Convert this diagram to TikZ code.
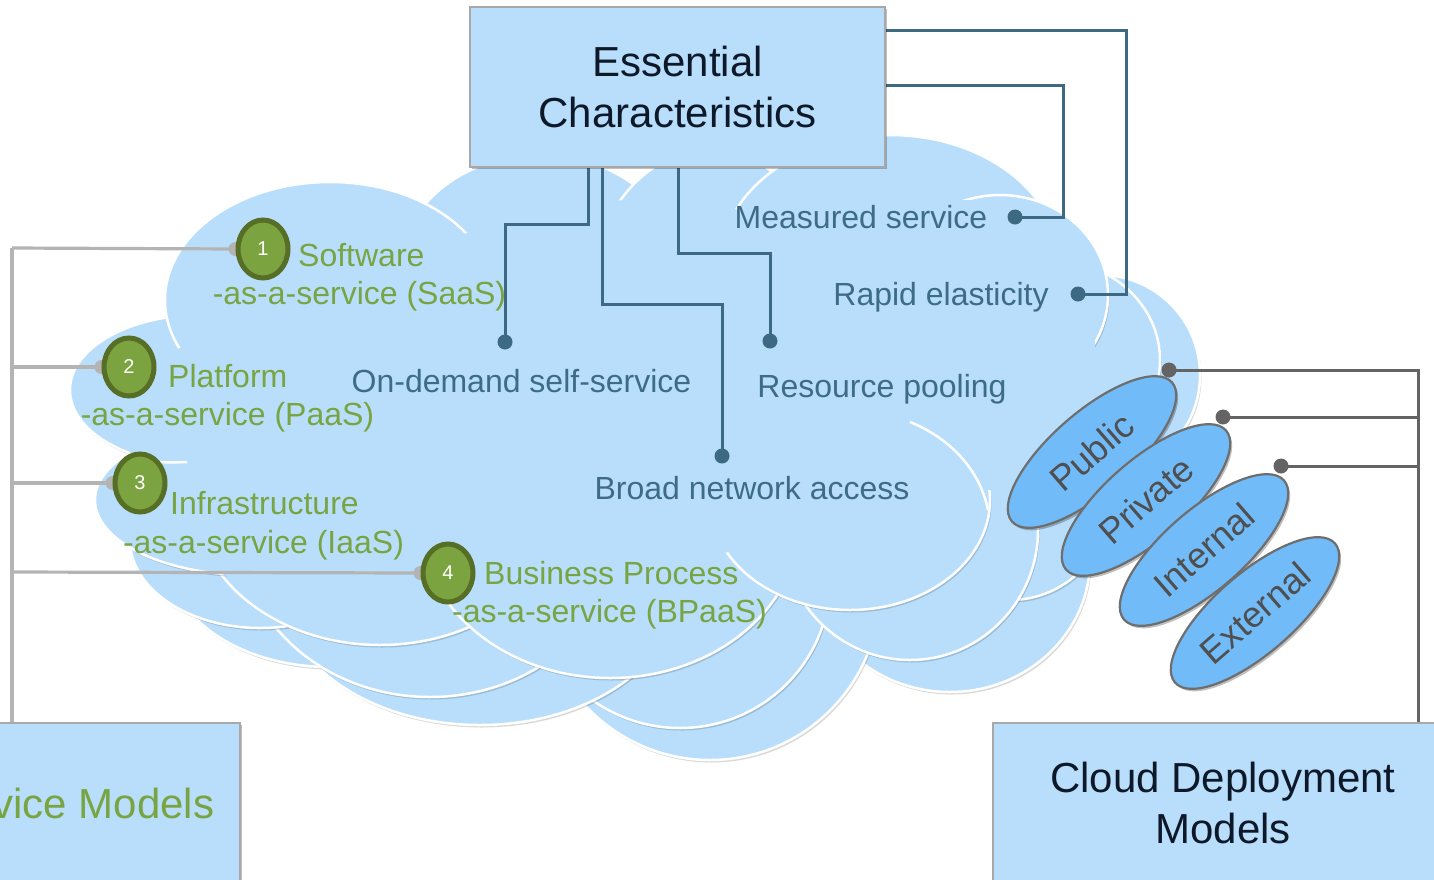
\documentclass[tikz,border=0pt]{standalone}
\usepackage{fontspec}
\setmainfont{Liberation Sans}
\usetikzlibrary{shapes.geometric,shadows}
\definecolor{cloudblue}{HTML}{B8DEFB}
\definecolor{boxgray}{HTML}{A8A8A8}
\definecolor{navy}{HTML}{0D1928}
\definecolor{greentext}{HTML}{78A442}
\definecolor{tealtext}{HTML}{3E6C85}
\definecolor{teal1}{HTML}{3D6A82}
\definecolor{numfill}{HTML}{7BA33F}
\definecolor{numedge}{HTML}{566E26}
\definecolor{lightg}{HTML}{B4B4B4}
\definecolor{darkg}{HTML}{646464}
\definecolor{depblue}{HTML}{71BBF9}
\definecolor{depedge}{HTML}{6E6E6E}
\definecolor{deptext}{HTML}{4F4F4F}
\pgfdeclarelayer{bg}
\pgfdeclarelayer{mid}
\pgfsetlayers{bg,mid,main}
\newcommand\lump[4]{\path[lumpst] (#1,#2) ellipse [x radius=#3pt, y radius=#4pt];}
\newcommand\patch[4]{\fill[cloudblue] (#1,#2) ellipse [x radius=#3pt, y radius=#4pt];}
\begin{document}
\begin{tikzpicture}[x=1pt,y=-1pt,
  lumpst/.style={fill=cloudblue, draw=white, line width=2.5pt,
    drop shadow={shadow xshift=1.5pt, shadow yshift=-2.5pt, opacity=0.15, fill=black}},
  box/.style={rectangle, fill=cloudblue, draw=boxgray, line width=1.5pt,
    minimum height=160pt, inner sep=0pt, align=center,
    font=\fontsize{42}{51}\selectfont,
    drop shadow={shadow xshift=2pt, shadow yshift=-2pt, opacity=0.25, fill=black}},
  glabel/.style={text=greentext, font=\fontsize{32}{38}\selectfont, inner sep=0pt},
  tlabel/.style={text=tealtext, font=\fontsize{32}{38}\selectfont, inner sep=0pt},
  num/.style={ellipse, fill=numfill, draw=numedge, line width=5pt,
    minimum width=50pt, minimum height=58pt, inner sep=0pt, text=white,
    font=\fontsize{20}{24}\selectfont},
  tdot/.style={circle, fill=teal1, minimum size=15pt, inner sep=0pt},
  gdot/.style={circle, fill=darkg, minimum size=15pt, inner sep=0pt},
  sdot/.style={circle, fill=lightg, minimum size=14pt, inner sep=0pt},
  tline/.style={draw=teal1, line width=3pt},
  gline/.style={draw=darkg, line width=3pt},
  sline/.style={draw=lightg, line width=3.2pt},
  dep/.style={ellipse, fill=depblue, draw=depedge, line width=2.2pt,
    minimum width=212pt, minimum height=80pt, inner sep=0pt, text=deptext,
    font=\fontsize{36}{40}\selectfont,
    drop shadow={shadow xshift=2pt, shadow yshift=-2.5pt, opacity=0.25, fill=black}},
  arcw/.style={draw=white, line width=2.5pt}
]
\useasboundingbox (0,0) rectangle (1434,879);
\clip (0,0) rectangle (1434,879);

\begin{pgfonlayer}{bg}
\fill[white] (0,0) rectangle (1434,879);
% back lumps
\lump{950}{560}{140}{132}
\lump{710}{590}{170}{170}
\lump{1010}{500}{100}{100}
\lump{1100}{375}{100}{100}
\lump{1050}{360}{110}{100}
\lump{680}{580}{150}{148}
\lump{910}{530}{128}{130}
\lump{480}{585}{200}{140}
\lump{330}{560}{160}{107}
\lump{430}{530}{190}{167}
\lump{260}{540}{130}{88}
\lump{380}{500}{185}{145}
\lump{610}{520}{190}{158}
\lump{850}{500}{140}{110}
% front lumps
\lump{540}{270}{140}{115}
\lump{710}{300}{120}{150}
\lump{890}{265}{170}{130}
\lump{1000}{295}{108}{100}
\lump{250}{500}{155}{75}
\lump{200}{390}{130}{75}
\lump{330}{300}{165}{118}
% interior patches
\patch{640}{380}{300}{180}
\patch{270}{420}{150}{90}
\patch{965}{305}{95}{105}
\patch{330}{540}{130}{60}
\patch{1030}{345}{65}{60}
\patch{990}{435}{65}{55}
% interior arcs
\draw[arcw] (123,457) .. controls (145,462) and (165,463) .. (187,462);
\draw[arcw] (910,422) .. controls (950,438) and (980,470) .. (988,510);
\end{pgfonlayer}

% boxes
\node[box, minimum width=415pt, text=navy] (EC) at (677.5,87) {Essential\\Characteristics};
\node[box, minimum width=460pt, text=navy] (CDM) at (1223,803) {Cloud Deployment\\Models};
\node[box, minimum width=460pt, text=greentext] (SM) at (10,803) {Cloud Service Models};

% service model numbers and labels
\node[num] (n1) at (263,249) {1};
\node[num] (n2) at (129,367) {2};
\node[num] (n3) at (140,483) {3};
\node[num] (n4) at (448,573) {4};
\node[glabel, anchor=base west] (s1a) at (298,266) {Software};
\node[glabel, anchor=base] (s1b) at (359.5,304) {-as-a-service (SaaS)};
\node[glabel, anchor=base west] (s2a) at (168,387) {Platform};
\node[glabel, anchor=base] (s2b) at (227.5,425) {-as-a-service (PaaS)};
\node[glabel, anchor=base west] (s3a) at (170,514) {Infrastructure};
\node[glabel, anchor=base] (s3b) at (263.5,553) {-as-a-service (IaaS)};
\node[glabel, anchor=base west] (s4a) at (484,584) {Business Process};
\node[glabel, anchor=base] (s4b) at (609.5,622) {-as-a-service (BPaaS)};

% essential characteristics labels and dots
\node[tlabel, anchor=base] (lOD) at (521.5,392) {On-demand self-service};
\node[tlabel, anchor=base] (lRP) at (882,397) {Resource pooling};
\node[tlabel, anchor=base] (lBN) at (752,499) {Broad network access};
\node[tlabel, anchor=base] (lMS) at (861,228) {Measured service};
\node[tlabel, anchor=base] (lRE) at (941,305) {Rapid elasticity};
\node[tdot] (dOD) at (505,342) {};
\node[tdot] (dBN) at (722,456) {};
\node[tdot] (dRP) at (770,341) {};
\node[tdot] (dMS) at (1015,217) {};
\node[tdot] (dRE) at (1078,294) {};

% deployment models
\node[dep, rotate=41] (pub) at (1092,452) {Public};
\node[dep, rotate=41] (pri) at (1146,500) {Private};
\node[dep, rotate=41] (int) at (1204,550) {Internal};
\node[dep, rotate=41] (ext) at (1255,613) {External};
\node[gdot] (dPub) at (1169,370) {};
\node[gdot] (dPri) at (1223,417) {};
\node[gdot] (dInt) at (1281,466) {};

\coordinate (jl) at (12,248);
\coordinate (jr) at (1418,370);

\begin{pgfonlayer}{mid}
% teal connectors
\draw[tline] (588,0 |- EC.south) |- (505,224) -- (dOD.center);
\draw[tline] (602,0 |- EC.south) |- (722,304) -- (dBN.center);
\draw[tline] (678,0 |- EC.south) |- (770,253) -- (dRP.center);
\draw[tline] (EC.east |- 0,85) -| (1063,217) -- (dMS.center);
\draw[tline] (EC.east |- 0,30) -| (1126,294) -- (dRE.center);
% service model connectors
\draw[sline] (jl) -- (jl |- SM.north);
\draw[sline] (jl) -- (n1.west);
\draw[sline] (jl |- n2.west) -- (n2.west);
\draw[sline] (jl |- n3.west) -- (n3.west);
\draw[sline] (jl |- 0,572) -- (n4.west);
\node[sdot] (g1) at (n1.west) {};
\node[sdot] (g2) at (n2.west) {};
\node[sdot] (g3) at (n3.west) {};
\node[sdot] (g4) at (n4.west) {};
% deployment connectors
\draw[gline] (dPub.center) -- (jr) -- (jr |- CDM.north);
\draw[gline] (dPri.center) -- (dPri -| jr);
\draw[gline] (dInt.center) -- (dInt -| jr);
\end{pgfonlayer}
\end{tikzpicture}
\end{document}
